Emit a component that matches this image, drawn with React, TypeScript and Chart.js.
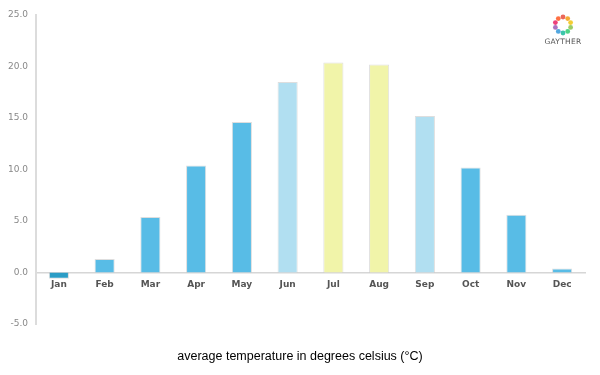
import React, { useEffect, useRef } from "react";
import { Chart, registerables } from "chart.js";

Chart.register(...registerables);

const months = ["Jan", "Feb", "Mar", "Apr", "May", "Jun", "Jul", "Aug", "Sep", "Oct", "Nov", "Dec"];
const temperatures = [-0.6, 1.3, 5.4, 10.4, 14.6, 18.5, 20.4, 20.2, 15.2, 10.2, 5.6, 0.4];
const barColors = [
  "#2b9dc6", "#58bce6", "#58bce6", "#58bce6", "#58bce6", "#b1dff1",
  "#f1f4a9", "#f1f4a9", "#b1dff1", "#58bce6", "#58bce6", "#58bce6",
];
const yMin = -5;
const yMax = 25;
const yStep = 5;
const titleText = "average temperature in degrees celsius (°C)";
const logoColors = ["#e84c3d", "#f39c12", "#f1c40f", "#8bc34a", "#2ecc71", "#1abc9c", "#3498db", "#9b59b6", "#e91e63", "#ff5722"];

function Logo() {
  const cx = 22, cy = 11, r = 8;
  return (
    <div style={{ position: "absolute", left: 541, top: 14, width: 44, height: 36, textAlign: "center" }}>
      <svg width={44} height={22} style={{ display: "block" }}>
        {logoColors.map((c, i) => {
          const a = (i / logoColors.length) * Math.PI * 2 - Math.PI / 2;
          return <circle key={i} cx={cx + r * Math.cos(a)} cy={cy + r * Math.sin(a)} r={2.4} fill={c} opacity={0.85} />;
        })}
      </svg>
      <div style={{ font: "7.5px 'DejaVu Sans', sans-serif", color: "#555", letterSpacing: 0.3, marginTop: 1 }}>GAYTHER</div>
    </div>
  );
}

export default function App() {
  const ref = useRef<HTMLCanvasElement | null>(null);
  useEffect(() => {
    if (!ref.current) return;
    const chart = new Chart(ref.current, {
      type: "bar",
      data: {
        labels: months,
        datasets: [
          {
            data: temperatures,
            backgroundColor: barColors,
            borderColor: "rgba(0,0,0,0.13)",
            borderWidth: 1,
            barPercentage: 0.44,
            categoryPercentage: 1,
          },
        ],
      },
      options: {
        animation: false,
        responsive: false,
        layout: { padding: { left: 0, right: 0, top: 15, bottom: 0 } },
        plugins: {
          legend: { display: false },
          tooltip: { enabled: false },
          title: {
            display: true,
            text: titleText,
            position: "bottom",
            color: "#000",
            font: { family: "'Liberation Sans', Arial, sans-serif", size: 12.5, weight: "normal" },
            padding: { top: 25, bottom: 11 },
          },
        },
        scales: {
          x: {
            position: { y: 0 } as any,
            grid: { display: false, drawTicks: false },
            border: { display: true, color: "#d6d6d6", width: 1.5 },
            ticks: {
              color: "#555",
              padding: 7,
              font: { family: "'DejaVu Sans', sans-serif", size: 9, weight: "bold" },
            },
          },
          y: {
            min: yMin,
            max: yMax,
            grid: { display: false, drawTicks: false },
            border: { display: true, color: "#dcdcdc", width: 2 },
            afterFit: (s: any) => { s.width = 36; },
            ticks: {
              stepSize: yStep,
              color: "#888",
              padding: 8,
              font: { family: "'DejaVu Sans', sans-serif", size: 9 },
              callback: (v: any) => Number(v).toFixed(1),
            },
          },
          yRight: {
            position: "right",
            min: yMin,
            max: yMax,
            grid: { display: false, drawTicks: false },
            border: { display: false },
            ticks: { display: false },
            afterFit: (s: any) => { s.width = 15; },
          },
        },
      },
    });
    return () => chart.destroy();
  }, []);
  return (
    <div style={{ position: "absolute", left: 0, top: 0, width: 600, height: 375, background: "#fff" }}>
      <canvas ref={ref} width={600} height={375} style={{ display: "block" }} />
      <Logo />
    </div>
  );
}
